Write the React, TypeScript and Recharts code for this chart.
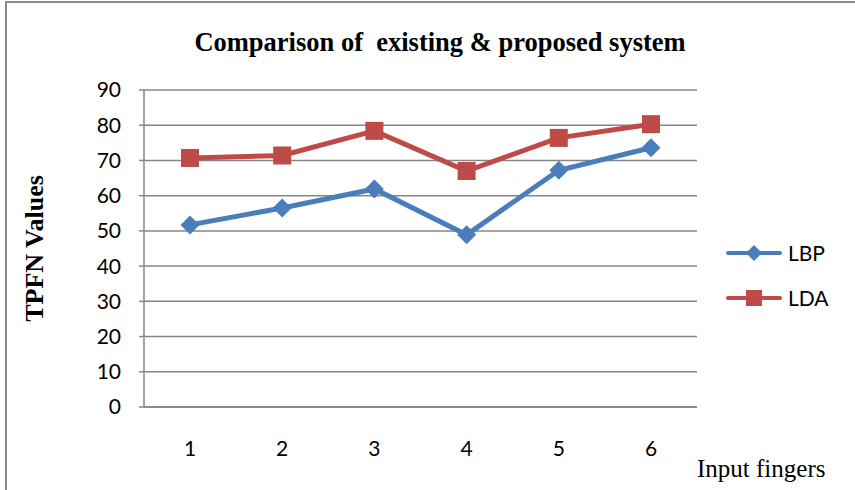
import { CartesianGrid, Label, Legend, Line, LineChart, XAxis, YAxis } from "recharts"

const fingers = ["1", "2", "3", "4", "5", "6"]
const lbpValues = [51.7, 56.5, 61.9, 48.9, 67.2, 73.6]
const ldaValues = [70.7, 71.4, 78.4, 67.0, 76.4, 80.3]
const yTicks = [0, 10, 20, 30, 40, 50, 60, 70, 80, 90]

const BLUE = "#4A7EBB"
const RED = "#BE4B48"
const GRID = "#868686"

const data = fingers.map((f, i) => ({
  finger: f,
  LBP: lbpValues[i],
  LDA: ldaValues[i],
}))

const Diamond = (props: any) => {
  const { cx, cy } = props
  if (cx == null || cy == null) return null
  const r = 9.5
  return (
    <path
      d={`M${cx},${cy - r} L${cx + r},${cy} L${cx},${cy + r} L${cx - r},${cy} Z`}
      fill={BLUE}
    />
  )
}

const Square = (props: any) => {
  const { cx, cy } = props
  if (cx == null || cy == null) return null
  const h = 9
  return <rect x={cx - h} y={cy - h} width={h * 2} height={h * 2} fill={RED} />
}

const LegendBox = (props: any) => {
  const items = props.payload || []
  return (
    <div style={{ display: "flex", flexDirection: "column", gap: 16 }}>
      {items.map((item: any) => {
        const isBlue = item.value === "LBP"
        return (
          <div key={item.value} style={{ display: "flex", alignItems: "center", height: 29 }}>
            <svg width={56} height={20}>
              <line x1={2} y1={10} x2={54} y2={10} stroke={item.color} strokeWidth={4} strokeLinecap="round" />
              {isBlue ? (
                <path d="M28,2 L36,10 L28,18 L20,10 Z" fill={item.color} />
              ) : (
                <rect x={20} y={2} width={16} height={16} fill={item.color} />
              )}
            </svg>
            <span style={{ fontFamily: "Lato, sans-serif", fontSize: 21, color: "#000", marginLeft: 6 }}>
              {item.value}
            </span>
          </div>
        )
      })}
    </div>
  )
}

export default function App() {
  return (
    <div
      style={{
        position: "absolute",
        left: 0,
        top: 0,
        width: 855,
        height: 490,
        overflow: "hidden",
        background: "#fff",
      }}
    >
      <div
        style={{
          position: "absolute",
          left: 5,
          top: 1,
          width: 870,
          height: 510,
          border: "2px solid #8a8a8a",
        }}
      />
      <div
        style={{
          position: "absolute",
          left: 0,
          width: 880,
          top: 26,
          textAlign: "center",
          fontFamily: "'Liberation Serif', 'Times New Roman', serif",
          fontWeight: "bold",
          fontSize: 26.5,
          lineHeight: "32px",
        }}
      >
        Comparison of&nbsp; existing &amp; proposed system
      </div>
      <div
        style={{
          position: "absolute",
          left: 697,
          top: 454,
          fontFamily: "'Liberation Serif', 'Times New Roman', serif",
          fontSize: 25,
          lineHeight: "30px",
        }}
      >
        Input fingers
      </div>
      <LineChart
        width={855}
        height={490}
        data={data}
        margin={{ top: 90, right: 38, bottom: 43, left: 24 }}
      >
        <CartesianGrid vertical={false} stroke={GRID} strokeWidth={1.5} />
        <XAxis
          dataKey="finger"
          height={40}
          padding={{ left: 46, right: 46 }}
          axisLine={{ stroke: GRID, strokeWidth: 1.5 }}
          tickLine={false}
          tickSize={0}
          tickMargin={34}
          tick={{ fill: "#000", fontSize: 21, fontFamily: "Lato, sans-serif" }}
        />
        <YAxis
          width={120}
          domain={[0, 90]}
          ticks={yTicks}
          interval={0}
          axisLine={{ stroke: GRID, strokeWidth: 1.5 }}
          tickLine={{ stroke: GRID, strokeWidth: 1.5 }}
          tickSize={5}
          tickMargin={18}
          tick={{ fill: "#000", fontSize: 21, fontFamily: "Lato, sans-serif" }}
        >
          <Label
            value="TPFN Values"
            angle={-90}
            position="insideLeft"
            offset={0}
            dx={10}
            style={{
              fontFamily: "'Liberation Serif', 'Times New Roman', serif",
              fontWeight: "bold",
              fontSize: 26,
              fill: "#000",
              textAnchor: "middle",
            }}
          />
        </YAxis>
        <Legend
          layout="vertical"
          align="right"
          verticalAlign="top"
          content={<LegendBox />}
          wrapperStyle={{ left: 726, top: 238, width: 120 }}
        />
        <Line
          dataKey="LBP"
          stroke={BLUE}
          strokeWidth={5}
          dot={<Diamond />}
          activeDot={false}
          isAnimationActive={false}
        />
        <Line
          dataKey="LDA"
          stroke={RED}
          strokeWidth={5}
          dot={<Square />}
          activeDot={false}
          isAnimationActive={false}
        />
      </LineChart>
    </div>
  )
}
